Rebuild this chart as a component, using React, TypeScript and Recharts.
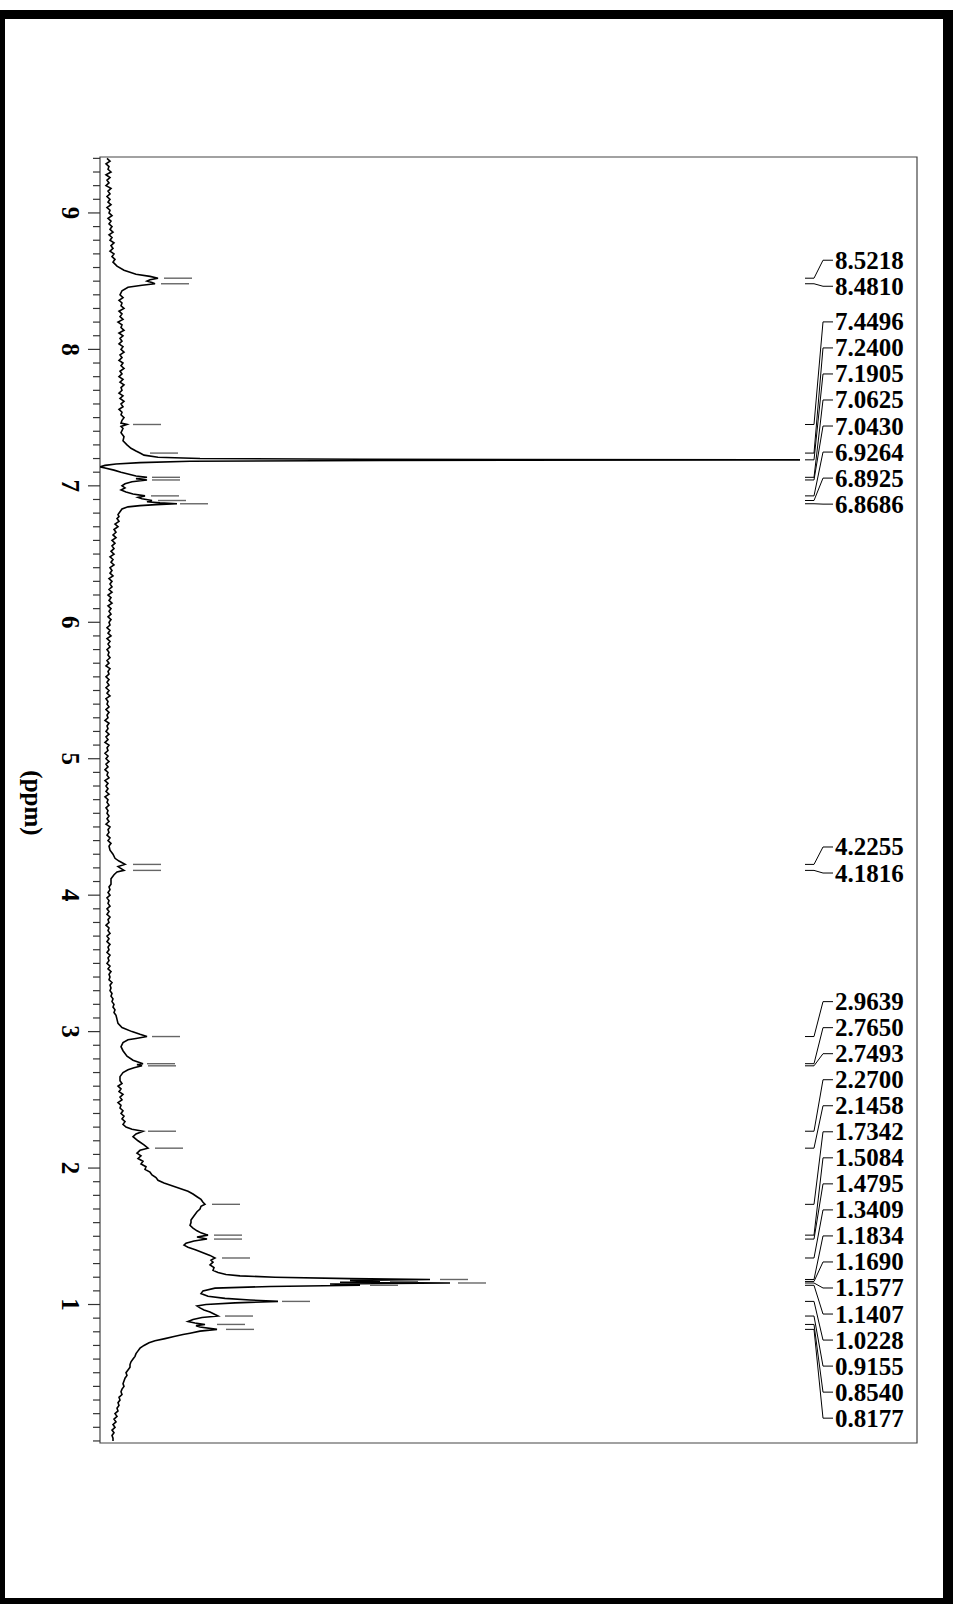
import {
  ComposedChart,
  Line,
  XAxis,
  YAxis,
  ReferenceArea,
  ReferenceLine,
  ReferenceDot,
} from "recharts";

// chemical shift axis (ppm), 9.4 at the top, 0 at the bottom
const PPM_DOMAIN: [number, number] = [-0.015, 9.41];
const INT_DOMAIN: [number, number] = [0, 817];
const majorTicks = [1, 2, 3, 4, 5, 6, 7, 8, 9];

// noisy baseline stretches, read every 0.02 ppm starting at the given shift
const STEP = 0.02;
const baseTop = [
  7, 10, 6, 9, 8, 11, 6, 10, 7, 9, 6, 11, 8, 10, 7, 10, 8, 11, 7, 10,
  9, 12, 8, 11, 9, 12, 10, 13, 9, 12, 10, 14, 11, 13, 10, 14, 12, 15, 13,
];
const baseAromatic = [
  20, 23, 19, 22, 21, 24, 19, 22, 20, 23, 18, 22, 21, 24, 19, 23, 20, 22, 19, 23,
  21, 24, 20, 22, 19, 23, 21, 24, 20, 22, 19, 23, 20, 24, 21, 22, 19, 23, 20, 24,
  21, 23, 19, 22, 21, 24, 22,
];
const baseMiddle = [
  17, 19, 15, 18, 14, 16, 13, 16, 12, 15,
  12, 14, 11, 14, 10, 13, 11, 14, 10, 12,
  10, 13, 9, 12, 10, 12, 9, 12, 8, 11,
  9, 12, 8, 11, 9, 11, 8, 11, 9, 10,
  7, 10, 8, 11, 7, 10, 8, 10, 7, 9,
  8, 10, 7, 9, 6, 10, 8, 9, 6, 9,
  7, 9, 6, 9, 7, 10, 6, 8, 7, 9,
  6, 9, 7, 8, 5, 9, 7, 8, 6, 9,
  6, 8, 5, 9, 7, 8, 5, 8, 6, 9,
  6, 8, 5, 8, 7, 9, 5, 8, 6, 8,
  6, 9, 5, 8, 7, 9, 6, 8, 7, 9,
  7, 9, 6, 10, 8, 9, 7, 10, 8, 11,
  9,
];
const baseLower = [
  11, 9, 10, 8, 10, 7, 9, 8, 10, 7,
  9, 7, 10, 8, 9, 6, 9, 8, 10, 7,
  9, 7, 10, 8, 9, 7, 10, 8, 9, 7,
  10, 8, 11, 9, 10, 9, 12, 10, 11, 10,
  12, 11, 13, 12, 14, 13, 15, 14,
  16,
];
const baseAliphatic = [20, 22, 18, 21, 19, 23, 20, 22, 18, 21, 20, 23, 21, 24, 22, 25, 23];
const baseTail = [
  44, 40, 38, 36, 35, 33, 31, 30, 30, 28,
  26, 27, 25, 24, 23, 24, 22, 21, 22, 19,
  20, 18, 19, 17, 18, 15, 17, 14, 16, 13,
  15, 12, 14, 12, 13,
];

const stretches: [number, number[]][] = [
  [9.4, baseTop],
  [8.4, baseAromatic],
  [6.76, baseMiddle],
  [4.08, baseLower],
  [2.64, baseAliphatic],
  [0.7, baseTail],
];

// peak regions, [ppm, intensity]
const detailPoints: [number, number][] = [
  [8.61, 17], [8.58, 24], [8.55, 36], [8.535, 50], [8.5218, 58], [8.51, 50], [8.5, 47], [8.49, 52],
  [8.481, 55], [8.47, 42], [8.455, 28], [8.43, 22],
  [7.46, 21], [7.4496, 27], [7.435, 21], [7.42, 23], [7.39, 21], [7.36, 24], [7.33, 23], [7.3, 27],
  [7.275, 31], [7.255, 36], [7.24, 40], [7.225, 44], [7.21, 58], [7.2, 100], [7.195, 260], [7.1905, 700],
  [7.186, 280], [7.18, 90], [7.17, 40], [7.16, 16], [7.15, 5], [7.139, 0], [7.13, 5], [7.115, 14],
  [7.1, 21], [7.085, 29], [7.072, 36], [7.0625, 47], [7.053, 36], [7.043, 47], [7.03, 32], [7.015, 25],
  [7.0, 22], [6.985, 25], [6.97, 21], [6.955, 26], [6.94, 33], [6.9264, 45], [6.915, 38], [6.905, 42],
  [6.8925, 52], [6.883, 47], [6.875, 60], [6.8686, 77], [6.862, 56], [6.855, 40], [6.846, 28], [6.83, 22],
  [6.81, 20], [6.79, 18], [6.775, 19],
  [4.33, 10], [4.3, 13], [4.27, 15], [4.25, 19], [4.2255, 25], [4.21, 18], [4.2, 20], [4.1816, 24],
  [4.17, 17], [4.15, 14], [4.12, 11],
  [3.09, 17], [3.06, 18], [3.03, 22], [3.0, 32], [2.98, 40], [2.9639, 47], [2.95, 36], [2.94, 28],
  [2.92, 23], [2.89, 21], [2.86, 23], [2.82, 27], [2.79, 33], [2.765, 43], [2.758, 37], [2.7493, 42],
  [2.735, 34], [2.72, 28], [2.7, 23], [2.67, 20],
  [2.3, 26], [2.285, 32], [2.27, 43], [2.25, 36], [2.23, 33], [2.2, 38], [2.17, 44], [2.1458, 48],
  [2.13, 40], [2.11, 37], [2.09, 41], [2.07, 38], [2.05, 43], [2.03, 41], [2.01, 46], [1.99, 45],
  [1.97, 50], [1.95, 52], [1.93, 56], [1.91, 58], [1.89, 64], [1.87, 72], [1.85, 80], [1.83, 88],
  [1.81, 93], [1.79, 97], [1.77, 101], [1.75, 103], [1.7342, 105], [1.72, 101], [1.7, 100], [1.68, 97],
  [1.66, 95], [1.64, 93], [1.62, 91], [1.6, 91], [1.58, 90], [1.56, 93], [1.54, 97], [1.525, 101],
  [1.5084, 108], [1.495, 97], [1.4795, 107], [1.465, 94], [1.45, 86], [1.435, 84], [1.42, 88], [1.4, 96],
  [1.38, 103], [1.36, 110], [1.3409, 115], [1.325, 111], [1.31, 113], [1.29, 110], [1.27, 114], [1.25, 113],
  [1.235, 118], [1.22, 126], [1.21, 140], [1.2, 175], [1.19, 250], [1.1834, 330], [1.176, 250], [1.169, 280],
  [1.163, 240], [1.1577, 350], [1.15, 230], [1.1407, 260], [1.132, 170], [1.12, 115], [1.1, 103], [1.08, 101],
  [1.06, 108], [1.045, 125], [1.033, 150], [1.0228, 178], [1.012, 135], [1.0, 106], [0.99, 97], [0.975, 100],
  [0.96, 104], [0.945, 110], [0.93, 114], [0.9155, 118], [0.905, 102], [0.89, 93], [0.875, 88], [0.865, 95],
  [0.854, 105], [0.845, 96], [0.835, 100], [0.8177, 117], [0.805, 100], [0.79, 90], [0.78, 83], [0.765, 74],
  [0.75, 65], [0.735, 55], [0.72, 49],
  [0.0, 13],
];

// picked peaks
const peakLabels = [
  "8.5218", "8.4810",
  "7.4496", "7.2400", "7.1905", "7.0625", "7.0430", "6.9264", "6.8925", "6.8686",
  "4.2255", "4.1816",
  "2.9639", "2.7650", "2.7493", "2.2700", "2.1458", "1.7342", "1.5084", "1.4795",
  "1.3409", "1.1834", "1.1690", "1.1577", "1.1407", "1.0228", "0.9155", "0.8540", "0.8177",
];
const peakGroup = [0, 0, 1, 1, 1, 1, 1, 1, 1, 1, 2, 2, 3, 3, 3, 3, 3, 3, 3, 3, 3, 3, 3, 3, 3, 3, 3, 3, 3];
// where the little pick mark starts next to each peak (null = none)
const markerFrom: (number | null)[] = [
  64, 61,
  33, 50, null, 52, 52, 51, 58, 80,
  33, 33,
  52, 47, 48, 48, 55, 112, 114, 114,
  122, 340, 290, 358, 270, 182, 125, 117, 126,
];
// first label slot of each group, in ppm
const groupTop = [8.6535, 8.2015, 4.3531, 3.2198];
const LABEL_STEP = 0.1908;

const data = [
  ...stretches.flatMap(([from, vals]) =>
    vals.map((v, i) => ({ ppm: +(from - i * STEP).toFixed(2), intensity: v }))
  ),
  ...detailPoints.map(([ppm, intensity]) => ({ ppm, intensity })),
].sort((a, b) => b.ppm - a.ppm);

const axisTicks = Array.from({ length: 95 }, (_, i) => i / 10);

const FONT = "'Liberation Serif', 'Times New Roman', serif";

function PpmTick(props: any) {
  const { x, y, payload } = props;
  const v = payload.value;
  const major = majorTicks.includes(v);
  return (
    <g>
      <line x1={x - (major ? 12 : 7)} x2={x} y1={y} y2={y} stroke="#333" strokeWidth={1.2} />
      {major && (
        <text
          transform={`translate(${x - 30},${y}) rotate(90)`}
          textAnchor="middle"
          dy="0.34em"
          fontFamily={FONT}
          fontWeight="bold"
          fontSize={25}
          fill="#000"
        >
          {v}
        </text>
      )}
    </g>
  );
}

function PpmTitle(props: any) {
  const vb = props.viewBox || { x: 0, y: 157, width: 100, height: 1286 };
  const cx = vb.x + vb.width - 68;
  const cy = vb.y + vb.height / 2 + 3;
  return (
    <text
      transform={`translate(${cx},${cy}) rotate(90)`}
      textAnchor="middle"
      dy="0.3em"
      fontFamily={FONT}
      fontWeight="bold"
      fontSize={25}
      fill="#000"
    >
      (ppm)
    </text>
  );
}

export default function App() {
  const labelPpm = peakLabels.map((_, i) => {
    const g = peakGroup[i];
    const k = peakGroup.slice(0, i).filter((x) => x === g).length;
    return groupTop[g] - k * LABEL_STEP;
  });

  return (
    <div style={{ position: "absolute", left: 0, top: 0, width: 953, height: 1604, background: "#fff" }}>
      <div
        style={{
          position: "absolute",
          left: 0,
          top: 10,
          width: 953,
          height: 1594,
          boxSizing: "border-box",
          borderStyle: "solid",
          borderColor: "#000",
          borderWidth: "9px 10px 6px 5px",
        }}
      />
      <div style={{ position: "absolute", left: 0, top: 0 }}>
        <ComposedChart
          layout="vertical"
          width={953}
          height={1604}
          data={data}
          margin={{ top: 157, right: 36, bottom: 161, left: 0 }}
        >
          <XAxis type="number" dataKey="intensity" domain={INT_DOMAIN} allowDataOverflow hide height={0} />
          <YAxis
            type="number"
            dataKey="ppm"
            domain={PPM_DOMAIN}
            allowDataOverflow
            reversed
            ticks={axisTicks}
            interval={0}
            tickLine={false}
            axisLine={false}
            tickSize={0}
            tickMargin={0}
            width={100}
            tick={PpmTick}
            label={{ content: PpmTitle }}
          />
          <ReferenceArea
            x1={INT_DOMAIN[0]}
            x2={INT_DOMAIN[1]}
            y1={PPM_DOMAIN[0]}
            y2={PPM_DOMAIN[1]}
            fill="none"
            stroke="#444"
            strokeWidth={1.2}
            ifOverflow="visible"
          />
          <Line
            type="linear"
            dataKey="intensity"
            stroke="#000"
            strokeWidth={1.6}
            dot={false}
            isAnimationActive={false}
          />
          {peakLabels.map((lab, i) => {
            const p = Number(lab);
            const m = markerFrom[i];
            return m === null ? null : (
              <ReferenceLine
                key={`m${i}`}
                segment={[{ x: m, y: p }, { x: m + 28, y: p }]}
                stroke="#666"
                strokeWidth={1.4}
                ifOverflow="visible"
              />
            );
          })}
          {peakLabels.map((lab, i) => {
            const p = Number(lab);
            const l = labelPpm[i];
            return [
              <ReferenceLine key={`a${i}`} segment={[{ x: 705, y: p }, { x: 714, y: p }]} stroke="#000" strokeWidth={1} ifOverflow="visible" />,
              <ReferenceLine key={`b${i}`} segment={[{ x: 714, y: p }, { x: 723, y: l }]} stroke="#000" strokeWidth={1} ifOverflow="visible" />,
              <ReferenceLine key={`c${i}`} segment={[{ x: 723, y: l }, { x: 733, y: l }]} stroke="#000" strokeWidth={1} ifOverflow="visible" />,
            ];
          })}
          {peakLabels.map((lab, i) => (
            <ReferenceDot
              key={`t${i}`}
              x={735}
              y={labelPpm[i]}
              ifOverflow="visible"
              shape={(p: any) => (
                <text
                  x={p.cx}
                  y={p.cy}
                  dy="0.34em"
                  fontFamily={FONT}
                  fontWeight="bold"
                  fontSize={25}
                  fill="#000"
                >
                  {lab}
                </text>
              )}
            />
          ))}
        </ComposedChart>
      </div>
    </div>
  );
}
